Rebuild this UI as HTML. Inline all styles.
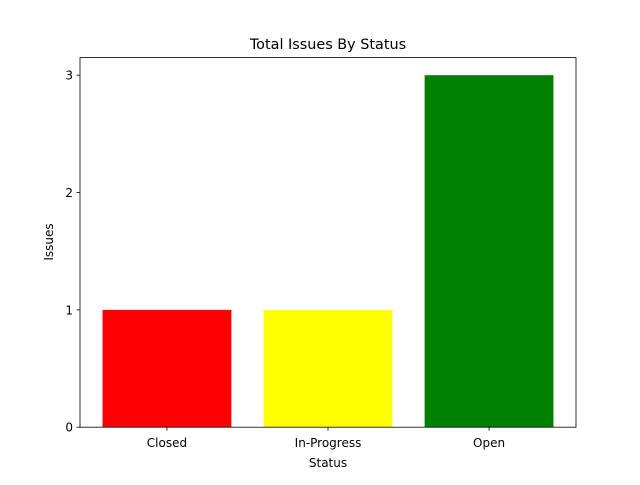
<!DOCTYPE html>
<html><head><meta charset="utf-8"><style>
body{margin:0;background:#fff;}
svg text{font-family:"DejaVu Sans","Liberation Sans",sans-serif;fill:#000;}
</style></head><body>
<svg id="chart" width="640" height="480" xmlns="http://www.w3.org/2000/svg">
<rect width="640" height="480" fill="#fff"/>
<text x="328" y="49" font-size="14.4" text-anchor="middle">Total Issues By Status</text>
<g id="marks"></g>
<rect x="80" y="57.6" width="496" height="369.6" fill="none" stroke="#000" stroke-width="0.8"/>
<g id="axes"></g>
<text x="328" y="467" font-size="12" text-anchor="middle">Status</text>
<text transform="translate(53,242) rotate(-90)" font-size="12" text-anchor="middle">Issues</text>
</svg>
<script>
const categories = ["Closed", "In-Progress", "Open"];
const values = [1, 1, 3];
const colors = ["red", "yellow", "green"];
const yTicks = [0, 1, 2, 3];

const L=80,R=576,T=57.6,B=427.2;
const xmin=-0.54,xmax=categories.length-1+0.54;
const ymax=Math.max(...values)*1.05;
const xs=v=>L+(v-xmin)/(xmax-xmin)*(R-L);
const ys=v=>B-v/ymax*(B-T);
const NS="http://www.w3.org/2000/svg";
const marks=document.getElementById('marks'), axes=document.getElementById('axes');
function mk(tag,attrs,parent){const e=document.createElementNS(NS,tag);for(const k in attrs)e.setAttribute(k,attrs[k]);parent.appendChild(e);return e;}
categories.forEach((c,i)=>{
  const r=mk('rect',{x:xs(i-0.4),y:ys(values[i]),width:xs(i+0.4)-xs(i-0.4),height:ys(0)-ys(values[i]),fill:colors[i]},marks);
  
  
  const t=mk('line',{x1:xs(i),x2:xs(i),y1:B,y2:B+3.5,stroke:'#000','stroke-width':0.8},axes);
  
  
  const lb=mk('text',{x:xs(i),y:B+20,'font-size':12,'text-anchor':'middle'},axes);
  lb.textContent=c;
  
  
});
yTicks.forEach(v=>{
  const t=mk('line',{x1:L-3.5,x2:L,y1:ys(v),y2:ys(v),stroke:'#000','stroke-width':0.8},axes);
  
  
  const lb=mk('text',{x:L-7,y:ys(v)+4.5,'font-size':12,'text-anchor':'end'},axes);
  lb.textContent=v;
  
  
});
</script>
</body></html>
